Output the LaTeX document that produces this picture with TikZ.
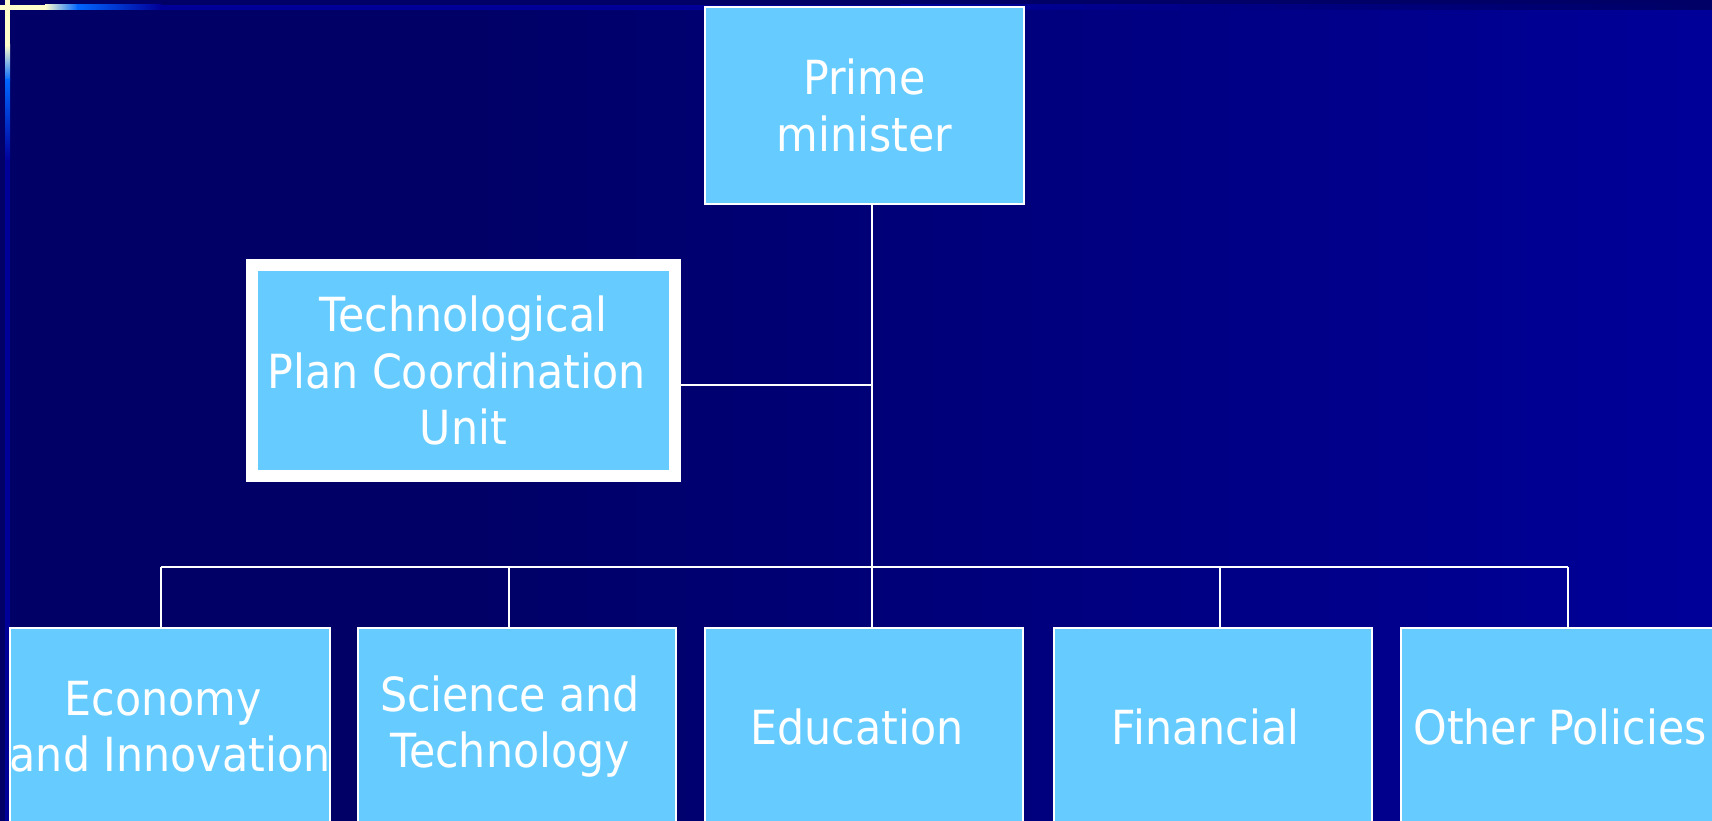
\documentclass[tikz,border=0pt]{standalone}
\usepackage{fontspec}
\setmainfont{DejaVu Sans}[FakeStretch=0.91]
\definecolor{bgdark}{HTML}{000066}
\definecolor{bglight}{HTML}{000099}
\definecolor{barpale}{HTML}{FFFFCC}
\definecolor{barblue}{HTML}{0066FF}
\definecolor{boxfill}{HTML}{66CCFF}
% width of a trailing word space, kept at the end of a line
\newcommand\trailsp{\hbox to 0.3em{}}
\begin{document}
\begin{tikzpicture}[x=1pt,y=-1pt,
  unitbox/.style={rectangle, fill=boxfill, draw=white, line width=2pt,
    text=white, align=center, font=\fontsize{47}{56.5}\selectfont,
    inner sep=0pt, minimum width=318pt, minimum height=197pt},
  link/.style={draw=white, line width=2pt}]

% page and background
\useasboundingbox (0,0) rectangle (1712,821);
\clip (0,0) rectangle (1712,821);
\fill[bgdark] (0,0) rectangle (451,821);
\shade[left color=bgdark, right color=bglight] (450,0) rectangle (1712,821);

% accent bars in the top left corner
\fill[bgdark] (0,0) rectangle (1712,10);
\fill[barpale] (0,5) rectangle (46,10);
\shade[left color=barpale, right color=barblue] (45,5) rectangle (78,10);
\shade[left color=barblue, right color=bglight] (77,5) rectangle (161,10);
\fill[bglight] (160,5) rectangle (901,10);
\shade[left color=bglight, right color=bgdark] (900,5) rectangle (1712,10);

\fill[barpale] (5,0) rectangle (10,46);
\shade[top color=barpale, bottom color=barblue] (5,45) rectangle (10,81);
\shade[top color=barblue, bottom color=bglight] (5,80) rectangle (10,161);
\fill[bglight] (5,160) rectangle (10,821);

% organisation units
\node[unitbox, minimum width=319pt] (pm) at (864.5,105.5) {Prime\\minister};
\node[unitbox, line width=12pt, minimum width=423pt, minimum height=211pt]
  (tpc) at (463.5,370.5) {Technological\\Plan Coordination\trailsp\\Unit};

\node[unitbox] (econ) at (170,726.5)   {Economy\trailsp\\and Innovation};
\node[unitbox] (sci)  at (517,726.5)   {Science and\trailsp\\Technology\trailsp};
\node[unitbox] (edu)  at (864,726.5)   {Education\trailsp};
\node[unitbox] (fin)  at (1212.5,726.5){Financial\trailsp};
\node[unitbox] (oth)  at (1560,726.5)  {Other Policies};

% junctions of the connector tree
\coordinate (j1) at (161,567);
\coordinate (j2) at (509,567);
\coordinate (j3) at (872,567);
\coordinate (j4) at (1220,567);
\coordinate (j5) at (1568,567);
\coordinate (tj) at (872,385);

% connectors
\draw[link] (j3 |- pm.south) -- (j3);
\draw[link] (tj) -- (tj -| tpc.east);
\draw[link] (j1) -- (j5);
\foreach \j/\b in {j1/econ, j2/sci, j3/edu, j4/fin, j5/oth}
  \draw[link] (\j) -- (\j |- \b.north);
\end{tikzpicture}
\end{document}
